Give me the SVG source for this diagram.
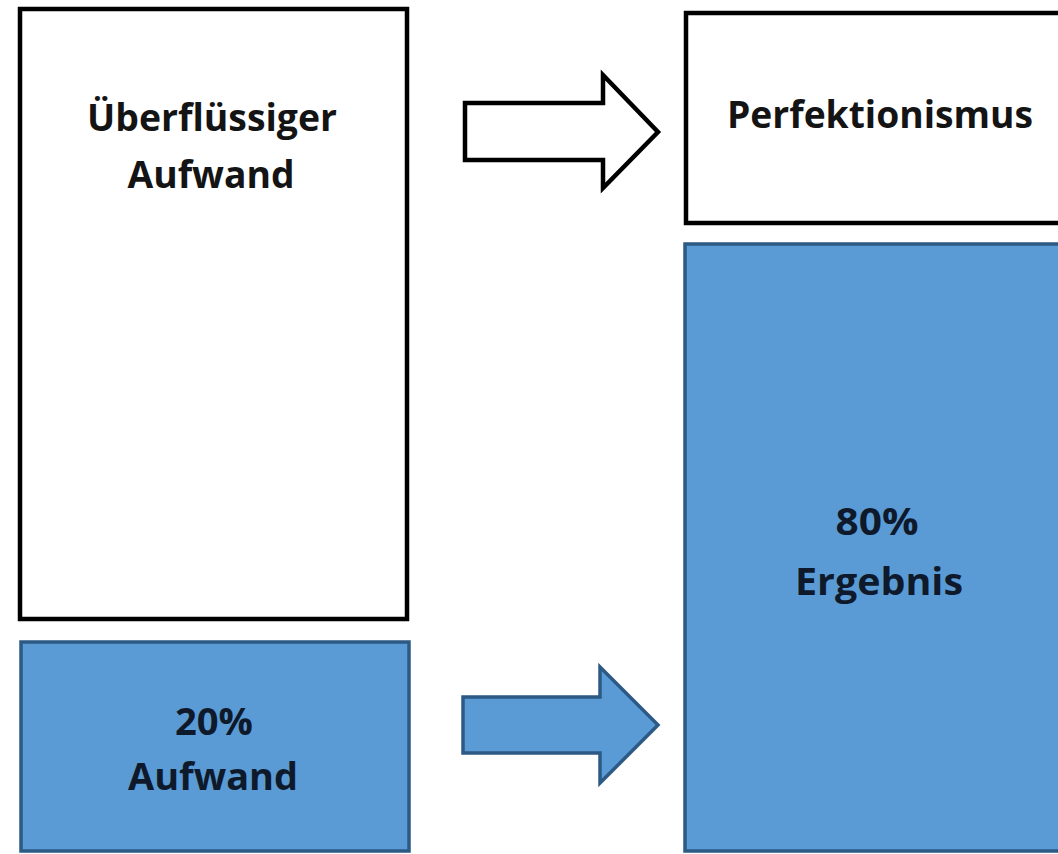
<svg xmlns="http://www.w3.org/2000/svg" width="1058" height="854" viewBox="0 0 1058 854">
<style>
.white{fill:#ffffff;stroke:#000000;stroke-width:4.5}
.blue{fill:#5B9BD5;stroke:#2C5A84;stroke-width:3.5}
.lbl{font-family:"Open Sans","Noto Sans","Liberation Sans",sans-serif;font-weight:bold;font-size:38px;text-anchor:middle;fill:#141414}
.lblb{fill:#0E1A2B}
</style>
<rect width="1058" height="854" fill="#ffffff"/>
<g id="node-ueberfluessig">
<rect class="white" x="20" y="9" width="387" height="610"/>
<text class="lbl" x="212" y="131" textLength="250" lengthAdjust="spacingAndGlyphs">Überflüssiger</text>
<text class="lbl" x="211" y="188" textLength="167" lengthAdjust="spacingAndGlyphs">Aufwand</text>
</g>
<g id="node-perfektionismus">
<rect class="white" x="686" y="13" width="380" height="210"/>
<text class="lbl" x="880" y="128" textLength="306" lengthAdjust="spacingAndGlyphs">Perfektionismus</text>
</g>
<g id="node-20">
<rect class="blue" x="21" y="642" width="388" height="209"/>
<text class="lbl lblb" x="214" y="735" textLength="78" lengthAdjust="spacingAndGlyphs">20%</text>
<text class="lbl lblb" x="213" y="790" textLength="170" lengthAdjust="spacingAndGlyphs">Aufwand</text>
</g>
<g id="node-80">
<rect class="blue" x="685" y="244" width="380" height="607"/>
<text class="lbl lblb" x="877" y="535" textLength="83" lengthAdjust="spacingAndGlyphs">80%</text>
<text class="lbl lblb" x="879" y="595" textLength="168" lengthAdjust="spacingAndGlyphs">Ergebnis</text>
</g>
<g id="connectors">
<polygon class="white" points="465,103 603,103 603,75 658,132 603,188 603,160 465,160" stroke-width="4"/>
<polygon class="blue" points="463,697 600,697 600,667 658,725 600,783 600,753 463,753"/>
</g>
</svg>
